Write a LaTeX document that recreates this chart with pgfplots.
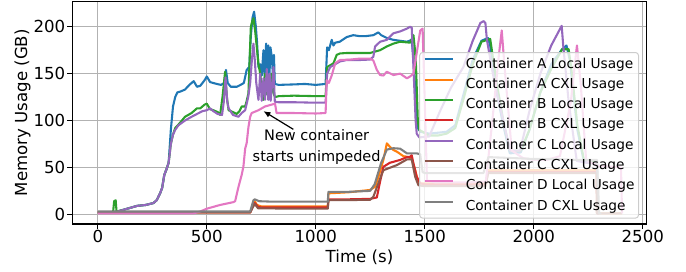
\documentclass[border=0pt]{standalone}
\usepackage{fontspec}
\setmainfont{DejaVu Sans}
\usepackage{pgfplots}
\pgfplotsset{compat=1.18}
\usetikzlibrary{arrows.meta}
\definecolor{c0}{HTML}{1F77B4}
\definecolor{c1}{HTML}{FF7F0E}
\definecolor{c2}{HTML}{2CA02C}
\definecolor{c3}{HTML}{D62728}
\definecolor{c4}{HTML}{9467BD}
\definecolor{c5}{HTML}{8C564B}
\definecolor{c6}{HTML}{E377C2}
\definecolor{c7}{HTML}{7F7F7F}
\begin{document}
\begin{tikzpicture}
\begin{axis}[
  scale only axis, width=574.4pt, height=222.5pt,
  at={(0pt,0pt)}, anchor=south west,
  xmin=-117, xmax=2518, ymin=-10.3, ymax=226.9,
  xtick={0,500,1000,1500,2000,2500},
  ytick={0,50,100,150,200},
  /pgf/number format/assume math mode=true,
  /pgf/number format/1000 sep={},
  scaled ticks=false,
  tick pos=left, tick align=outside, major tick length=4.86pt,
  tick style={black, line width=1.1pt},
  axis line style={black, line width=1.1pt},
  grid=major, major grid style={color=black!30, line width=1.1pt},
  tick label style={font=\fontsize{16.6}{19.9}\selectfont},
  yticklabel style={inner sep=0pt, anchor=east, xshift=-2pt},
  xticklabel style={inner sep=0pt, anchor=north, yshift=-1.2pt},
  label style={font=\fontsize{16.6}{19.9}\selectfont},
  xlabel={Time (s)}, ylabel={Memory Usage (GB)},
  xlabel style={at={(axis description cs:0.5,-0.1506)}, anchor=center, inner sep=0pt},
  ylabel style={at={(axis description cs:-0.0867,0.5)}, anchor=center, inner sep=0pt},
  legend cell align=left,
  legend image code/.code={\draw[#1] (0pt,4.8pt) -- (28pt,4.8pt);},
  legend style={at={(axis description cs:0.9866,0.773)}, anchor=north east,
    font=\fontsize{13.7}{16}\selectfont,
    draw=black!20, line width=1pt, rounded corners=3pt,
    fill=white, fill opacity=0.8, text opacity=1, draw opacity=1,
    inner xsep=4pt, inner ysep=5pt, row sep=6.8pt, column sep=12pt,
    nodes={inner sep=0pt, text height=10.5pt, text depth=3pt}},
  legend columns=1,
  every axis plot/.append style={line width=2.08pt, line join=round},
]
% Container A Local
\addplot[c0] coordinates {(0,2)(60,2)(90,3)(120,5)(150,7)(180,9)(220,10)(255,12)(270,15)(285,22)(295,28)(305,42)(315,48)(325,55)(335,90)(345,115)(355,125)(365,130)(380,131)(400,133)(420,138)(440,142)(455,136)(470,137)(490,143)(500,147)(515,141)(530,140)(546,139)(565,138)(580,140)(588,154)(596,140)(610,136)(638,136)(655,138)(670,140)(683,154)(695,157)(702,190)(710,210)(717,216)(725,200)(730,185)(737,157)(745,160)(752,148)(760,175)(767,140)(772,182)(778,150)(782,180)(787,145)(792,178)(798,168)(803,150)(808,170)(812,139)(830,138)(900,138.5)(950,139)(1000,138)(1045,139)(1052,178)(1060,175)(1073,186)(1081,180)(1089,183)(1110,184)(1142,189)(1172,191)(1200,190)(1230,190)(1264,191)(1287,194)(1300,191)(1326,188)(1356,186)(1387,185)(1418,184)(1440,186)(1450,160)(1458,122)(1465,93)(1480,88)(1520,86)(1560,87)(1600,88)(1640,95)(1680,130)(1720,165)(1760,185)(1790,188)(1800,180)(1830,130)(1860,95)(1890,65)(1940,66)(1980,90)(2030,130)(2080,160)(2130,176)(2150,180)(2165,165)(2200,90)(2230,56)(2290,54)(2292,1)(2300,1)};
\addlegendentry{Container A Local Usage}
% Container A CXL
\addplot[c1] coordinates {(0,2)(699,2)(712,10)(720,14)(730,10)(750,8.5)(900,8.5)(1055,8.5)(1058,22.4)(1150,23.5)(1249,26)(1272,29.4)(1290,42)(1310,58)(1326,75.7)(1340,72)(1356,68.6)(1372,66.8)(1402,62)(1418,61.4)(1440,59.6)(1456,47)(1471,33)(1500,33)(1600,33)(1700,33)(1780,33)(1790,47)(1900,47)(2000,47)(2100,47)(2200,47)(2288,47)(2290,1)(2405,1)};
\addlegendentry{Container A CXL Usage}
% Container B Local
\addplot[c2] coordinates {(0,2)(70,2)(75,14)(82,15)(86,3)(120,5)(150,7)(180,9)(220,10)(255,12)(270,15)(285,22)(295,28)(305,42)(315,48)(325,55)(335,75)(345,85)(355,92)(375,97)(400,104)(430,108)(455,113)(470,113)(490,117)(500,118)(515,112)(530,111)(550,109)(561,106)(572,125)(584,152)(592,125)(600,111)(620,109)(637,107)(650,110)(660,115)(676,115)(683,121)(691,129)(702,200)(710,207)(714,209)(722,195)(729,179)(737,160)(745,150)(752,135)(760,122)(767,150)(775,128)(782,140)(790,124)(798,150)(805,130)(813,125)(830,126)(900,126.5)(1000,126)(1045,126)(1052,157)(1081,161)(1096,170)(1111,171.5)(1142,172)(1200,172)(1249,172)(1264,173)(1295,175)(1326,179)(1356,182)(1387,184)(1433,183)(1448,191)(1455,175)(1460,157)(1468,100)(1475,90)(1520,84)(1560,84)(1600,86)(1640,92)(1680,125)(1720,160)(1760,184)(1800,187)(1830,140)(1860,100)(1890,68)(1940,68)(1980,90)(2030,130)(2080,155)(2130,176)(2160,176)(2175,150)(2200,95)(2230,58)(2290,56)(2292,1)(2300,1)};
\addlegendentry{Container B Local Usage}
% Container B CXL
\addplot[c3] coordinates {(0,2)(699,2)(712,9)(720,12)(735,8)(750,7.3)(900,7.3)(1055,7.3)(1058,16)(1150,16)(1249,16.5)(1280,18)(1295,35)(1310,50.7)(1340,55)(1356,56)(1387,58)(1418,61)(1433,61.4)(1440,63)(1448,54.3)(1463,40)(1479,33)(1500,32)(1600,32)(1780,32)(1790,45)(2000,45)(2288,45)(2290,1)(2300,1)};
\addlegendentry{Container B CXL Usage}
% Container C Local
\addplot[c4] coordinates {(0,2)(80,2)(120,5)(150,7)(180,9)(220,10)(255,12)(270,15)(285,22)(295,28)(305,42)(315,48)(325,55)(335,75)(345,85)(355,90)(370,95)(400,100)(430,104)(455,107)(480,110)(500,111)(515,113)(530,110)(550,107)(570,106)(578,120)(586,146)(594,120)(600,113)(620,106)(645,104)(660,108)(676,111)(690,125)(699,140)(707,165)(714,182)(720,165)(727,140)(737,122)(745,150)(752,121)(760,145)(767,122)(775,155)(782,122)(788,150)(793,121)(800,140)(806,157)(812,120)(830,119.5)(900,119.5)(1000,119)(1045,119)(1052,150)(1066,157)(1111,163)(1142,164.5)(1200,164.5)(1249,165)(1264,168)(1272,179)(1295,184)(1326,186)(1356,193)(1387,195)(1418,198)(1433,200)(1440,199)(1448,157)(1458,100)(1463,86)(1475,82)(1520,83)(1570,110)(1620,135)(1677,157)(1720,185)(1755,204)(1770,206)(1778,204)(1785,186)(1820,140)(1860,100)(1891,68)(1937,68)(1980,110)(2030,150)(2080,180)(2128,201)(2135,180)(2160,120)(2197,57)(2240,55)(2290,54)(2292,1)(2300,1)};
\addlegendentry{Container C Local Usage}
% Container C CXL
\addplot[c5] coordinates {(0,2)(699,2)(712,8)(720,11)(735,6.5)(900,6)(1055,6)(1058,15.2)(1150,15.2)(1249,15.5)(1264,18.7)(1290,35)(1310,47)(1372,52.5)(1418,58.5)(1440,58.5)(1456,40)(1471,31)(1500,30)(1600,30)(1780,30)(1790,44)(2000,44)(2288,44)(2290,1)(2405,1)};
\addlegendentry{Container C CXL Usage}
% Container D Local
\addplot[c6] coordinates {(0,1)(437,1)(470,3)(500,6)(561,10)(622,13)(630,14)(645,29)(660,42)(668,51)(676,70)(683,76)(691,93)(699,104)(706,108)(737,111)(767,115)(798,117)(813,118)(820,108)(900,108)(1000,107.5)(1045,108)(1050,143)(1060,140)(1073,148)(1089,161)(1111,164.5)(1160,165)(1200,166)(1249,166)(1264,164)(1280,154)(1295,148.5)(1310,148)(1326,152)(1356,148.5)(1387,150)(1418,145)(1433,147)(1448,150)(1463,172)(1479,196)(1490,198)(1500,120)(1510,36)(1550,34)(1600,34)(1700,34)(1780,35)(1810,100)(1840,170)(1853,196)(1865,160)(1899,68)(1950,60)(2000,58)(2060,58)(2120,62)(2170,120)(2198,180)(2215,140)(2240,58)(2290,52)(2400,50)(2405,1)};
\addlegendentry{Container D Local Usage}
% Container D CXL
\addplot[c7] coordinates {(0,3)(699,3)(714,15)(720,16)(740,14)(800,13.5)(900,13.5)(1000,13.5)(1055,13.5)(1058,24)(1150,24)(1249,25)(1270,32)(1300,55)(1326,69)(1356,70.5)(1387,70)(1418,65)(1463,65)(1479,64)(1490,45)(1500,44)(1600,44)(1700,44)(1769,44)(1792,61)(1900,60)(2000,59)(2100,59)(2200,58)(2290,58)(2300,1)(2310,1)};
\addlegendentry{Container D CXL Usage}
\node[align=center, font=\fontsize{14.5}{20.3}\selectfont, inner sep=0pt] at (axis cs:1004,71.7) {New container\\starts unimpeded};
\draw[-{Latex[length=7pt,width=6pt]}, line width=1.2pt, black] (axis cs:897,90.6) -- (axis cs:760,110);
\end{axis}
\pgfresetboundingbox
\path[use as bounding box] (-72.3pt,-48pt) rectangle (613.7pt,224pt);
\end{tikzpicture}
\end{document}
